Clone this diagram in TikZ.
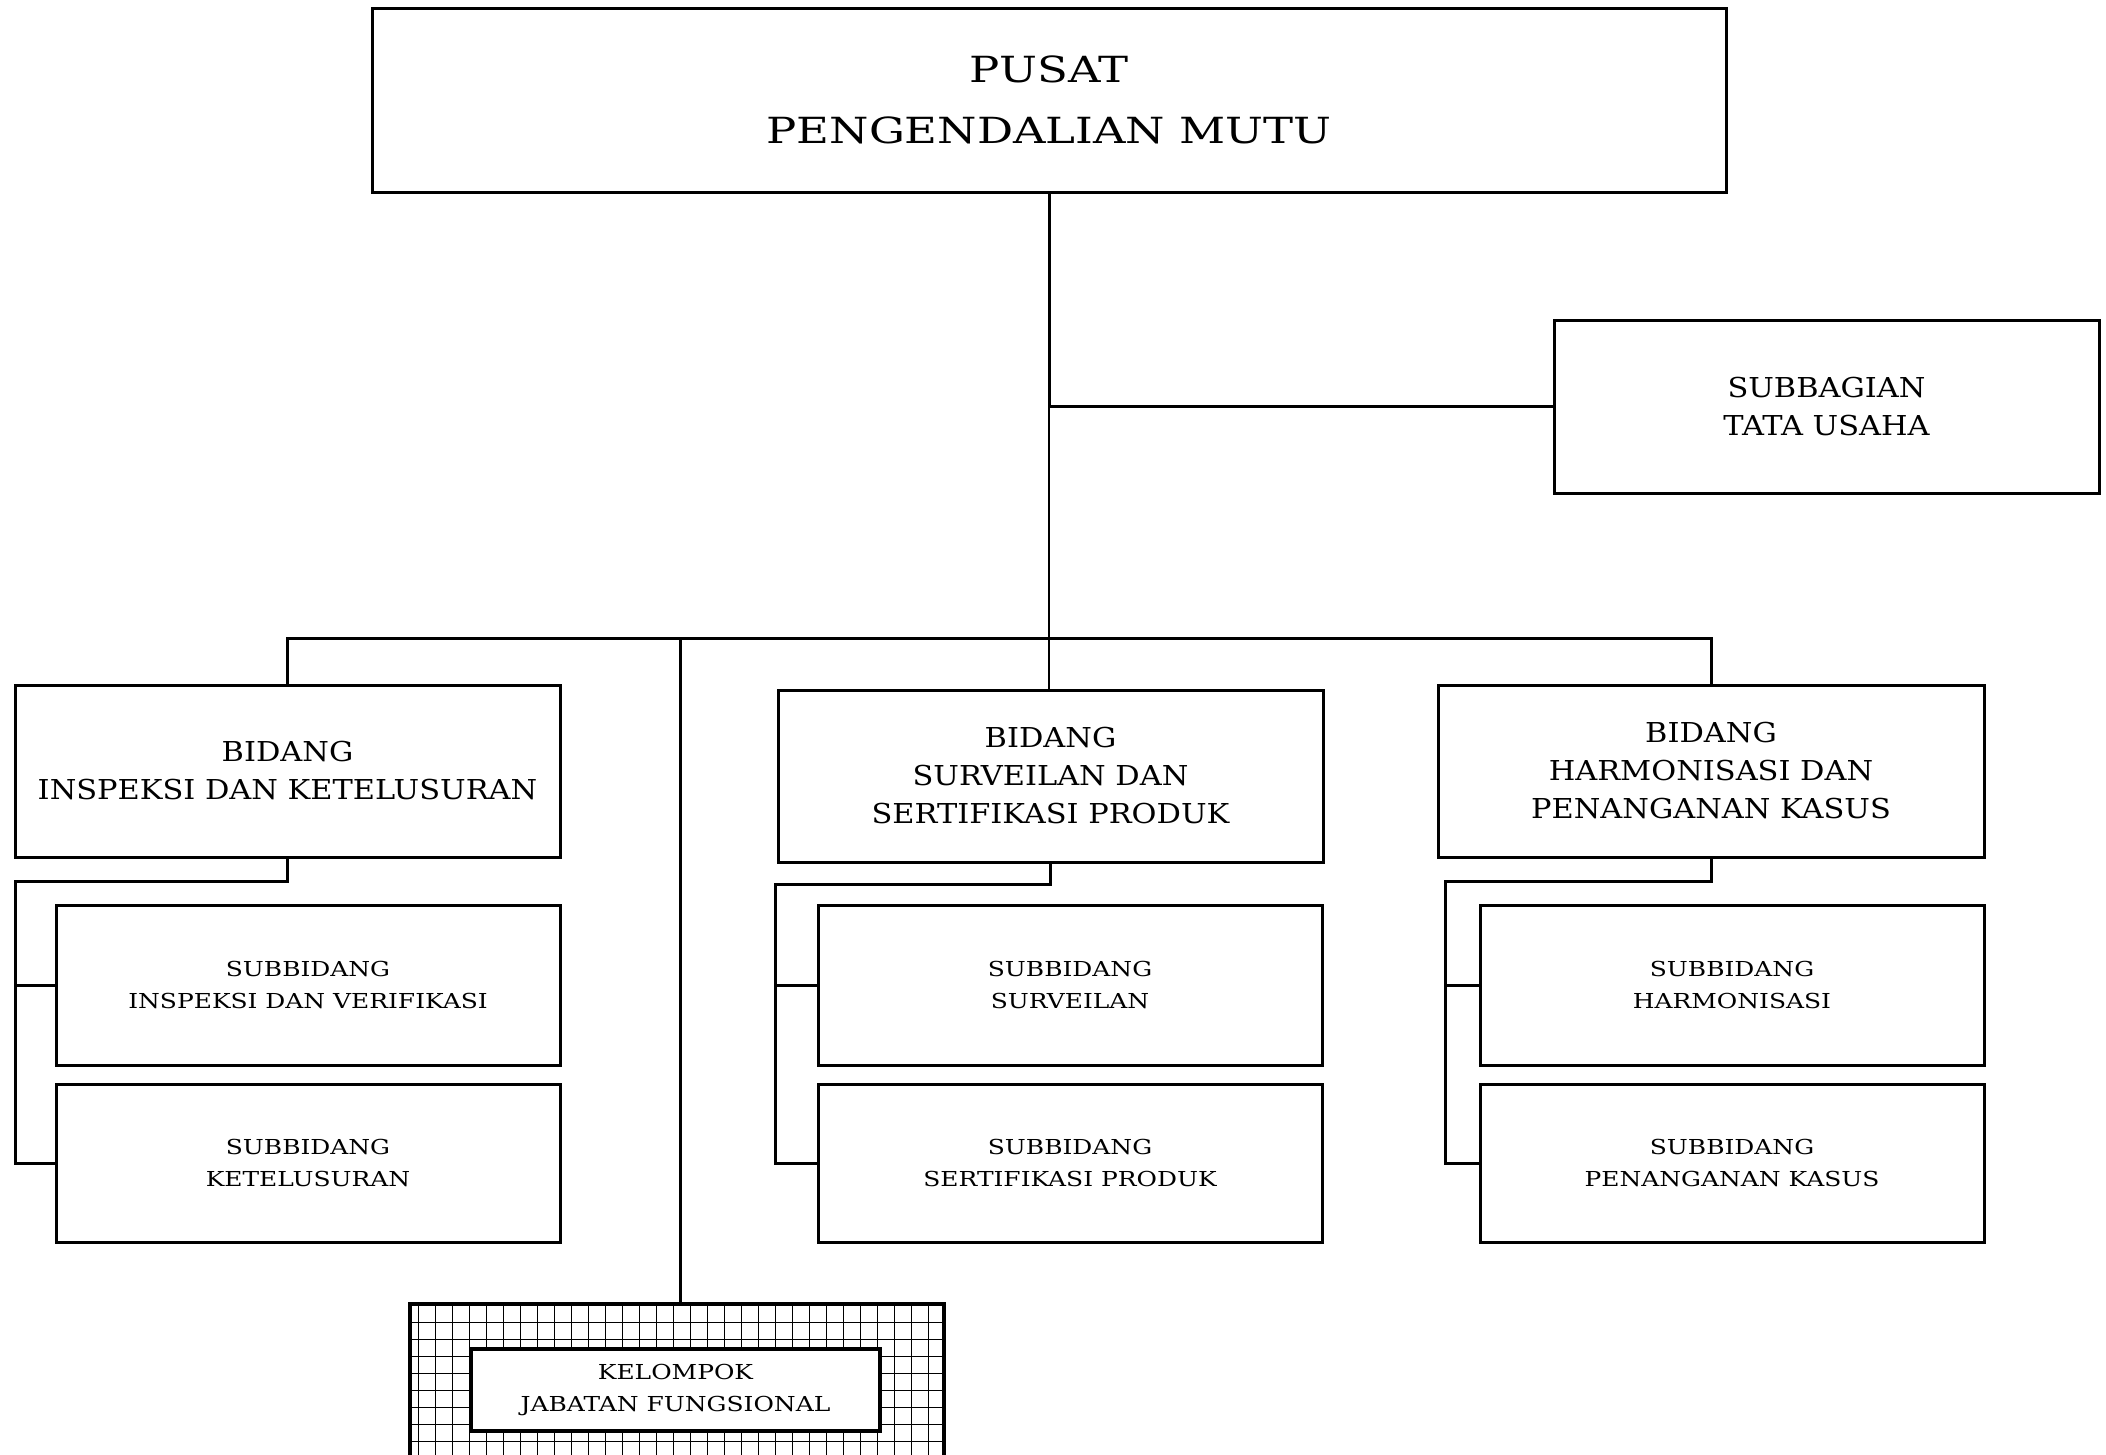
\documentclass[tikz,border=0pt]{standalone}
\usepackage{fontspec}
\setmainfont{DejaVu Serif}
\newfontfamily\wideTop[FakeStretch=1.25]{DejaVu Serif}
\newfontfamily\wideBid[FakeStretch=1.11]{DejaVu Serif}
\newfontfamily\wideSub[FakeStretch=1.21]{DejaVu Serif}
\begin{document}
\begin{tikzpicture}[x=1pt,y=-1pt,
  box/.style={draw,line width=3pt,inner sep=0pt,outer sep=0pt,align=center,fill=white},
  topbox/.style={box,font=\wideTop\fontsize{36}{61}\selectfont},
  bidbox/.style={box,font=\wideBid\fontsize{27.4}{38}\selectfont},
  subbox/.style={box,font=\wideSub\fontsize{20.6}{32}\selectfont},
  conn/.style={line width=3pt},
  thinconn/.style={line width=1.2pt},
  gridline/.style={line width=1pt}]
\useasboundingbox (0,0) rectangle (2106,1454);
\fill[white] (0,0) rectangle (2106,1454);
% nodes
\node[topbox,minimum width=1354pt,minimum height=184pt] (top) at (1049,100) {PUSAT\\PENGENDALIAN MUTU};
\node[bidbox,minimum width=545pt,minimum height=173pt] (tu) at (1826.5,406.5) {SUBBAGIAN\\TATA USAHA};
\node[bidbox,minimum width=545pt,minimum height=172pt] (b1) at (287.5,771) {BIDANG\\INSPEKSI DAN KETELUSURAN};
\node[bidbox,minimum width=545pt,minimum height=172pt] (b2) at (1050.5,776) {BIDANG\\SURVEILAN DAN\\SERTIFIKASI PRODUK};
\node[bidbox,minimum width=546pt,minimum height=172pt] (b3) at (1711,771) {BIDANG\\HARMONISASI DAN\\PENANGANAN KASUS};
\node[subbox,minimum width=504pt,minimum height=160pt] (s11) at (308,985) {SUBBIDANG\\INSPEKSI DAN VERIFIKASI};
\node[subbox,minimum width=504pt,minimum height=158pt] (s12) at (308,1163) {SUBBIDANG\\KETELUSURAN};
\node[subbox,minimum width=504pt,minimum height=160pt] (s21) at (1070,985) {SUBBIDANG\\SURVEILAN};
\node[subbox,minimum width=504pt,minimum height=158pt] (s22) at (1070,1163) {SUBBIDANG\\SERTIFIKASI PRODUK};
\node[subbox,minimum width=504pt,minimum height=160pt] (s31) at (1732,985) {SUBBIDANG\\HARMONISASI};
\node[subbox,minimum width=504pt,minimum height=158pt] (s32) at (1732,1163) {SUBBIDANG\\PENANGANAN KASUS};
% hatched group box
\node[draw,line width=4pt,inner sep=0pt,outer sep=0pt,minimum width=534pt,minimum height=180pt] (grp) at (677,1394) {};
\begin{scope}
\clip (410,1304) rectangle (944,1484);
\foreach \i in {0,...,31} {\draw[gridline] (418+17*\i,1304) -- (418+17*\i,1484);}
\foreach \j in {0,...,10} {\draw[gridline] (410,1322+17*\j) -- (944,1322+17*\j);}
\end{scope}
\draw[line width=4pt] (grp.north west) rectangle (grp.south east);
\node[subbox,line width=4.5pt,minimum width=409pt,minimum height=82pt] (kjf) at (675.5,1390) {KELOMPOK\\JABATAN FUNGSIONAL};
% coordinates
\coordinate (junc) at (1049,406.5);
\coordinate (busL) at (287.5,638);
\coordinate (busR) at (1711,638);
\coordinate (busG) at (680,638);
% connectors
\draw[conn] (top.south) -- (junc) -- (tu.west);
\draw[thinconn] (junc) -- (junc |- b2.north);
\draw[conn] (b1.north) -- (busL) -- (busR) -- (b3.north);
\draw[conn] (busG) -- (busG |- grp.north);
% sub connectors
\coordinate (l1a) at (287.5,881); \coordinate (l1b) at (15,881);
\draw[conn] (b1.south) -- (l1a) -- (l1b) -- (l1b |- s12.west) -- (s12.west);
\draw[conn] (l1b |- s11.west) -- (s11.west);
\coordinate (l2a) at (1050.5,884); \coordinate (l2b) at (775,884);
\draw[conn] (b2.south) -- (l2a) -- (l2b) -- (l2b |- s22.west) -- (s22.west);
\draw[conn] (l2b |- s21.west) -- (s21.west);
\coordinate (l3a) at (1711,881); \coordinate (l3b) at (1445,881);
\draw[conn] (b3.south) -- (l3a) -- (l3b) -- (l3b |- s32.west) -- (s32.west);
\draw[conn] (l3b |- s31.west) -- (s31.west);
\end{tikzpicture}
\end{document}
